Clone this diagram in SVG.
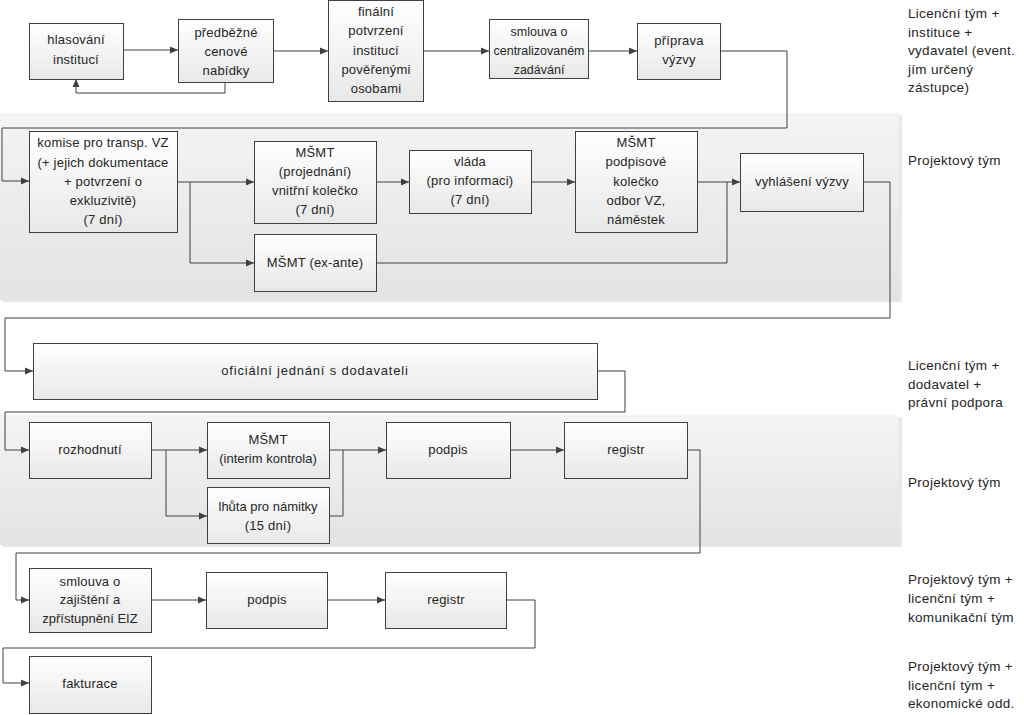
<svg xmlns="http://www.w3.org/2000/svg" width="1024" height="715" viewBox="0 0 1024 715">
<style>
.box{fill:url(#bg);stroke:#404040;stroke-width:1}
.band{fill:url(#bandg)}
.t{font-family:"Liberation Sans",Arial,sans-serif;font-size:13px;letter-spacing:0.2px;fill:#262626;text-anchor:middle}
.lab{font-family:"Liberation Sans",Arial,sans-serif;font-size:13.5px;letter-spacing:0.3px;fill:#262626}
.c{fill:none;stroke:#404040;stroke-width:1}
</style>
<defs>
<linearGradient id="bg" x1="0" y1="0" x2="0" y2="1"><stop offset="0" stop-color="#ffffff"/><stop offset="1" stop-color="#e8e8e8"/></linearGradient>
<linearGradient id="bandg" x1="0" y1="0" x2="0" y2="1"><stop offset="0" stop-color="#f4f4f4"/><stop offset="1" stop-color="#e3e3e3"/></linearGradient>
<marker id="a" markerUnits="userSpaceOnUse" markerWidth="8" markerHeight="8" refX="8" refY="4" orient="auto"><path d="M0,0.5 L8,4 L0,7.5 z" fill="#404040"/></marker>
</defs>
<rect width="1024" height="715" fill="#ffffff"/>
<g id="bands">
<rect x="2" y="115" width="900" height="187" fill="#d9d9d9" opacity="0.6"/>
<rect class="band" x="0" y="113" width="899" height="187"/>
<rect x="2" y="417" width="900" height="130" fill="#d9d9d9" opacity="0.6"/>
<rect class="band" x="0" y="415" width="899" height="130"/>
</g>
<g id="connectors">
<path class="c" d="M123,50 H178" marker-end="url(#a)"/>
<path class="c" d="M225,82 V93 H76 V79" marker-end="url(#a)"/>
<path class="c" d="M423,51 H489" marker-end="url(#a)"/>
<path class="c" d="M273,51 H328" marker-end="url(#a)"/>
<path class="c" d="M588,51 H637" marker-end="url(#a)"/>
<path class="c" d="M720,51 H787 V128 H2 V181 H29" marker-end="url(#a)"/>
<path class="c" d="M177,182 H254" marker-end="url(#a)"/>
<path class="c" d="M190,182 V263 H254" marker-end="url(#a)"/>
<path class="c" d="M376,182 H409" marker-end="url(#a)"/>
<path class="c" d="M531,182 H575" marker-end="url(#a)"/>
<path class="c" d="M697,182 H740" marker-end="url(#a)"/>
<path class="c" d="M376,263 H727 V182"/>
<path class="c" d="M863,182 H890 V318 H5 V371 H33" marker-end="url(#a)"/>
<path class="c" d="M598,371 H625 V412 H5 V450 H29" marker-end="url(#a)"/>
<path class="c" d="M152,450 H207" marker-end="url(#a)"/>
<path class="c" d="M166,450 V516 H207" marker-end="url(#a)"/>
<path class="c" d="M329,450 H386" marker-end="url(#a)"/>
<path class="c" d="M329,516 H343 V450"/>
<path class="c" d="M510,450 H564" marker-end="url(#a)"/>
<path class="c" d="M687,450 H700 V553 H16 V600 H29" marker-end="url(#a)"/>
<path class="c" d="M152,600 H206" marker-end="url(#a)"/>
<path class="c" d="M327,600 H385" marker-end="url(#a)"/>
<path class="c" d="M506,600 H535 V648 H3 V683 H29" marker-end="url(#a)"/>
</g>
<g id="n1"><rect class="box" x="29.5" y="23.5" width="94" height="56"/><text class="t" x="76" y="44">hlasování</text><text class="t" x="76" y="64">institucí</text></g>
<g id="n2"><rect class="box" x="178.5" y="19.5" width="95" height="63"/><text class="t" x="226" y="37">předběžné</text><text class="t" x="226" y="56">cenové</text><text class="t" x="226" y="75">nabídky</text></g>
<g id="n3"><rect class="box" x="328.5" y="0.5" width="95" height="101"/><text class="t" x="376" y="16">finální</text><text class="t" x="376" y="35">potvrzení</text><text class="t" x="376" y="55">institucí</text><text class="t" x="376" y="74">pověřenými</text><text class="t" x="376" y="93">osobami</text></g>
<g id="n4"><rect class="box" x="489.5" y="19.5" width="99" height="59"/><text class="t" x="539" y="36" style="letter-spacing:0;font-size:12.5px">smlouva o</text><text class="t" x="539" y="55" style="letter-spacing:0;font-size:12.5px">centralizovaném</text><text class="t" x="539" y="74" style="letter-spacing:0;font-size:12.5px">zadávání</text></g>
<g id="n5"><rect class="box" x="637.5" y="23.5" width="83" height="56"/><text class="t" x="679" y="45">příprava</text><text class="t" x="679" y="64">výzvy</text></g>
<g id="n6"><rect class="box" x="29.5" y="131.5" width="148" height="101"/><text class="t" x="103" y="147">komise pro transp. VZ</text><text class="t" x="103" y="167">(+ jejich dokumentace</text><text class="t" x="103" y="186">+ potvrzení o</text><text class="t" x="103" y="205">exkluzivitě)</text><text class="t" x="103" y="224">(7 dní)</text></g>
<g id="n7"><rect class="box" x="254.5" y="141.5" width="122" height="82"/><text class="t" x="315" y="157">MŠMT</text><text class="t" x="315" y="176">(projednání)</text><text class="t" x="315" y="195">vnitřní kolečko</text><text class="t" x="315" y="214">(7 dní)</text></g>
<g id="n8"><rect class="box" x="254.5" y="234.5" width="122" height="57"/><text class="t" x="315" y="267">MŠMT (ex-ante)</text></g>
<g id="n9"><rect class="box" x="409.5" y="150.5" width="122" height="63"/><text class="t" x="470" y="166">vláda</text><text class="t" x="470" y="185">(pro informaci)</text><text class="t" x="470" y="204">(7 dní)</text></g>
<g id="n10"><rect class="box" x="575.5" y="131.5" width="122" height="101"/><text class="t" x="636" y="147">MŠMT</text><text class="t" x="636" y="166">podpisové</text><text class="t" x="636" y="186">kolečko</text><text class="t" x="636" y="205">odbor VZ,</text><text class="t" x="636" y="224">náměstek</text></g>
<g id="n11"><rect class="box" x="740.5" y="153.5" width="123" height="58"/><text class="t" x="802" y="186">vyhlášení výzvy</text></g>
<g id="n12"><rect class="box" x="33.5" y="343.5" width="564" height="56"/><text class="t" x="315" y="375" style="letter-spacing:0.8px">oficiální jednání s dodavateli</text></g>
<g id="n13"><rect class="box" x="29.5" y="422.5" width="122" height="56"/><text class="t" x="90" y="454">rozhodnutí</text></g>
<g id="n14"><rect class="box" x="207.5" y="422.5" width="122" height="56"/><text class="t" x="268" y="444">MŠMT</text><text class="t" x="268" y="463" style="letter-spacing:0">(interim kontrola)</text></g>
<g id="n15"><rect class="box" x="207.5" y="487.5" width="122" height="56"/><text class="t" x="268" y="511" style="letter-spacing:0">lhůta pro námitky</text><text class="t" x="268" y="530">(15 dní)</text></g>
<g id="n16"><rect class="box" x="386.5" y="422.5" width="124" height="56"/><text class="t" x="448" y="454">podpis</text></g>
<g id="n17"><rect class="box" x="564.5" y="422.5" width="123" height="56"/><text class="t" x="626" y="454">registr</text></g>
<g id="n18"><rect class="box" x="29.5" y="568.5" width="122" height="64"/><text class="t" x="90" y="586">smlouva o</text><text class="t" x="90" y="604">zajištění a</text><text class="t" x="90" y="623" style="letter-spacing:0">zpřístupnění EIZ</text></g>
<g id="n19"><rect class="box" x="206.5" y="572.5" width="121" height="56"/><text class="t" x="267" y="604">podpis</text></g>
<g id="n20"><rect class="box" x="385.5" y="572.5" width="121" height="56"/><text class="t" x="446" y="604">registr</text></g>
<g id="n21"><rect class="box" x="29.5" y="656.5" width="122" height="57"/><text class="t" x="90" y="688">fakturace</text></g>
<g id="labels">
<text class="lab" x="908" y="18">Licenční tým +</text>
<text class="lab" x="908" y="37">instituce +</text>
<text class="lab" x="908" y="55">vydavatel (event.</text>
<text class="lab" x="908" y="74">jím určený</text>
<text class="lab" x="908" y="92">zástupce)</text>
<text class="lab" x="908" y="165">Projektový tým</text>
<text class="lab" x="908" y="370">Licenční tým +</text>
<text class="lab" x="908" y="389">dodavatel +</text>
<text class="lab" x="908" y="407">právní podpora</text>
<text class="lab" x="908" y="487">Projektový tým</text>
<text class="lab" x="908" y="584">Projektový tým +</text>
<text class="lab" x="908" y="603">licenční tým +</text>
<text class="lab" x="908" y="622">komunikační tým</text>
<text class="lab" x="908" y="671">Projektový tým +</text>
<text class="lab" x="908" y="690">licenční tým +</text>
<text class="lab" x="908" y="708">ekonomické odd.</text>
</g>
</svg>
